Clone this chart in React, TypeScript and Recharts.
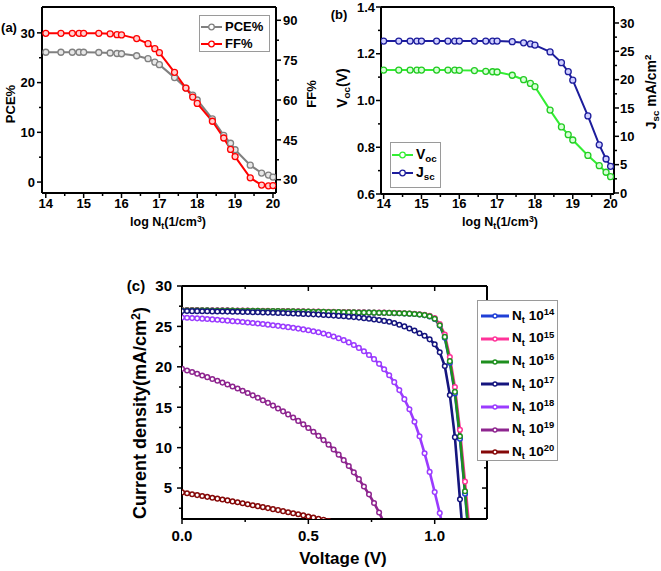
import React from 'react'
import { LineChart, Line, XAxis, YAxis } from 'recharts'

const FONT = '"Liberation Sans", Arial, Helvetica, sans-serif'

// (a) + (b): device parameters vs defect density
const logNt = [14, 14.4, 14.7, 14.88, 15, 15.4, 15.7, 15.88, 16, 16.4, 16.7, 16.88, 17, 17.4, 17.7, 17.88, 18, 18.4, 18.7, 18.88, 19, 19.4, 19.7, 19.88, 20]
const pce = [26.1, 26.1, 26.1, 26.1, 26.1, 26.05, 25.95, 25.85, 25.8, 25.4, 24.8, 24.1, 23.6, 21.0, 18.9, 17.5, 16.5, 12.7, 9.4, 7.8, 6.5, 3.4, 1.8, 1.4, 1.0]
const ff = [85.1, 85.1, 85.1, 85.1, 85.1, 85.1, 84.9, 84.6, 84.5, 83.1, 81.2, 79.3, 77.8, 70.4, 64.5, 61.1, 58.7, 52.0, 45.7, 41.4, 38.7, 30.7, 28.0, 27.7, 27.8]
const voc = [1.13, 1.13, 1.13, 1.13, 1.13, 1.13, 1.13, 1.13, 1.129, 1.128, 1.125, 1.123, 1.122, 1.108, 1.089, 1.073, 1.059, 0.959, 0.887, 0.854, 0.831, 0.765, 0.721, 0.693, 0.674]
const jsc = [26.8, 26.8, 26.8, 26.8, 26.8, 26.8, 26.8, 26.8, 26.8, 26.8, 26.8, 26.8, 26.8, 26.7, 26.5, 26.3, 26.1, 24.9, 23.0, 21.4, 19.9, 13.6, 8.5, 6.0, 4.7]

const ntTicks = [14, 14.5, 15, 15.5, 16, 16.5, 17, 17.5, 18, 18.5, 19, 19.5, 20]
const pceTicks = [0, 5, 10, 15, 20, 25, 30]
const ffTicks = [30, 37.5, 45, 52.5, 60, 67.5, 75, 82.5, 90]
const vocTicks = [0.6, 0.7, 0.8, 0.9, 1.0, 1.1, 1.2, 1.3, 1.4]
const jscTicks = [0, 2.5, 5, 7.5, 10, 12.5, 15, 17.5, 20, 22.5, 25, 27.5, 30]

// (c): J-V curves
const volts = [0, 0.02, 0.04, 0.06, 0.08, 0.1, 0.12, 0.14, 0.16, 0.18, 0.2, 0.22, 0.24, 0.26, 0.28, 0.3, 0.32, 0.34, 0.36, 0.38, 0.4, 0.42, 0.44, 0.46, 0.48, 0.5, 0.52, 0.54, 0.56, 0.58, 0.6, 0.62, 0.64, 0.66, 0.68, 0.7, 0.72, 0.74, 0.76, 0.78, 0.8, 0.82, 0.84, 0.86, 0.88, 0.9, 0.92, 0.94, 0.96, 0.98, 1.0, 1.02, 1.04, 1.06, 1.08, 1.1, 1.12, 1.14]
const jv14 = [26.99, 26.99, 26.98, 26.98, 26.97, 26.97, 26.96, 26.96, 26.95, 26.95, 26.94, 26.93, 26.93, 26.92, 26.91, 26.91, 26.9, 26.89, 26.88, 26.88, 26.87, 26.86, 26.85, 26.84, 26.83, 26.82, 26.81, 26.8, 26.79, 26.78, 26.77, 26.76, 26.75, 26.74, 26.73, 26.72, 26.71, 26.7, 26.69, 26.68, 26.67, 26.66, 26.64, 26.62, 26.6, 26.57, 26.53, 26.47, 26.39, 26.24, 25.93, 25.1, 23.6, 20.5, 16.7, 11.1, 4.3, -3]
const jv15 = [27.02, 27.02, 27.01, 27.01, 27.0, 27.0, 26.99, 26.99, 26.98, 26.98, 26.97, 26.96, 26.96, 26.95, 26.94, 26.94, 26.93, 26.92, 26.91, 26.91, 26.9, 26.89, 26.88, 26.87, 26.86, 26.85, 26.84, 26.83, 26.82, 26.81, 26.8, 26.79, 26.78, 26.77, 26.76, 26.75, 26.74, 26.73, 26.72, 26.71, 26.7, 26.69, 26.67, 26.65, 26.63, 26.6, 26.56, 26.5, 26.43, 26.3, 26.02, 25.3, 24.0, 21.2, 17.5, 12.2, 5.8, -1]
const jv16 = [27.0, 27.0, 26.99, 26.99, 26.98, 26.98, 26.97, 26.97, 26.96, 26.96, 26.95, 26.94, 26.94, 26.93, 26.92, 26.92, 26.91, 26.9, 26.89, 26.89, 26.88, 26.87, 26.86, 26.85, 26.84, 26.83, 26.82, 26.81, 26.8, 26.79, 26.78, 26.77, 26.76, 26.75, 26.74, 26.73, 26.72, 26.71, 26.7, 26.69, 26.68, 26.67, 26.65, 26.63, 26.61, 26.58, 26.54, 26.48, 26.4, 26.25, 25.95, 25.15, 23.7, 20.7, 16.9, 11.4, 4.6, -2.5]
const jv17 = [26.9, 26.9, 26.89, 26.89, 26.88, 26.87, 26.86, 26.85, 26.84, 26.83, 26.82, 26.81, 26.79, 26.78, 26.76, 26.75, 26.73, 26.71, 26.69, 26.67, 26.65, 26.63, 26.6, 26.58, 26.55, 26.52, 26.49, 26.46, 26.42, 26.38, 26.34, 26.3, 26.25, 26.2, 26.15, 26.09, 26.02, 25.95, 25.87, 25.78, 25.68, 25.57, 25.42, 25.2, 25.0, 24.75, 24.48, 24.15, 23.85, 23.4, 22.8, 21.8, 20.1, 16.5, 11.3, 3.6, -4]
const jv18 = [26.1, 26.07, 26.03, 26.0, 25.96, 25.92, 25.87, 25.82, 25.77, 25.71, 25.65, 25.6, 25.54, 25.48, 25.42, 25.36, 25.29, 25.22, 25.15, 25.07, 24.99, 24.91, 24.82, 24.73, 24.63, 24.52, 24.4, 24.27, 24.12, 23.95, 23.76, 23.54, 23.3, 23.02, 22.7, 22.34, 21.93, 21.47, 20.95, 20.37, 19.7, 18.95, 18.1, 17.12, 16.0, 14.75, 13.2, 11.4, 9.3, 7.0, 4.5, 1.9, -0.8]
const jv19 = [19.75, 19.55, 19.35, 19.14, 18.93, 18.72, 18.5, 18.28, 18.05, 17.82, 17.57, 17.31, 17.04, 16.76, 16.47, 16.17, 15.86, 15.54, 15.2, 14.85, 14.49, 14.11, 13.72, 13.31, 12.88, 12.43, 11.96, 11.46, 10.93, 10.37, 9.77, 9.13, 8.45, 7.72, 6.94, 6.1, 5.2, 4.22, 3.15, 1.98, 0.7]
const jv20 = [4.46, 4.35, 4.24, 4.13, 4.02, 3.91, 3.8, 3.69, 3.58, 3.47, 3.35, 3.24, 3.12, 3.0, 2.88, 2.76, 2.64, 2.52, 2.39, 2.27, 2.14, 2.01, 1.88, 1.75, 1.62, 1.48, 1.35, 1.21, 1.07, 0.93, 0.79]

const jvYTicks = [2.5, 5, 7.5, 10, 12.5, 15, 17.5, 20, 22.5, 25, 27.5, 30]
const jvXTicks = [0, 0.25, 0.5, 0.75, 1.0]

const jvSeries = [
  { key: 'n14', exp: '14', color: '#1f3fd6', values: jv14 },
  { key: 'n15', exp: '15', color: '#ff3399', values: jv15 },
  { key: 'n16', exp: '16', color: '#1e8f1e', values: jv16 },
  { key: 'n17', exp: '17', color: '#15157e', values: jv17 },
  { key: 'n18', exp: '18', color: '#9b3bff', values: jv18 },
  { key: 'n19', exp: '19', color: '#8e258f', values: jv19 },
  { key: 'n20', exp: '20', color: '#850808', values: jv20 },
]

const sweepRows = logNt.map((x, i) => ({ x, pce: pce[i], ff: ff[i], voc: voc[i], jsc: jsc[i] }))
const jvRows = volts.map((v, i) => {
  const row: Record<string, number> = { v }
  jvSeries.forEach(s => { if (i < s.values.length) row[s.key] = s.values[i] })
  return row
})

const axisLine = { stroke: '#000', strokeWidth: 2 }
const tickFont = { fill: '#000', fontSize: 13, fontWeight: 700, fontFamily: FONT }
const bigTick = { fill: '#000', fontSize: 15, fontWeight: 700, fontFamily: FONT }

const onStep = (step: number) => (v: number) => Math.abs(v / step - Math.round(v / step)) < 1e-6

// tick mark + optional label, drawn by hand so minor ticks can be shorter
function makeTick(side: 'left' | 'right' | 'bottom' | 'top', o: {
  major: (v: number) => boolean; gap?: number; inward?: boolean; label?: boolean
  fmt?: (v: number) => string; style?: React.CSSProperties
}) {
  return (props: any) => {
    const { x, y, payload } = props
    const v = payload.value as number
    const mj = o.major(v)
    const len = (mj ? 5 : 3) * (o.inward ? -1 : 1)
    const gap = o.gap ?? 7
    const txt = o.fmt ? o.fmt(v) : String(v)
    let x2 = x, y2 = y, tx = x, ty = y
    let anchor: 'start' | 'middle' | 'end' = 'middle'
    if (side === 'left') { x2 = x - len; tx = x - gap; anchor = 'end' }
    if (side === 'right') { x2 = x + len; tx = x + gap; anchor = 'start' }
    if (side === 'bottom') { y2 = y + len; ty = y + gap }
    if (side === 'top') { y2 = y - len; ty = y - gap }
    return (
      <g>
        <line x1={x} y1={y} x2={x2} y2={y2} stroke="#000" strokeWidth={1.5} />
        {o.label !== false && mj &&
          <text x={tx} y={ty} dy="0.36em" textAnchor={anchor} style={o.style ?? tickFont}>{txt}</text>}
      </g>
    )
  }
}

const Sub = ({ children }: { children: React.ReactNode }) =>
  <span style={{ fontSize: '0.7em', position: 'relative', top: '0.35em' }}>{children}</span>
const Sup = ({ children }: { children: React.ReactNode }) =>
  <span style={{ fontSize: '0.7em', position: 'relative', top: '-0.5em' }}>{children}</span>

function Title({ x, y, size, rotate, children }: { x: number; y: number; size: number; rotate?: boolean; children: React.ReactNode }) {
  return (
    <div style={{
      position: 'absolute', left: x, top: y, fontSize: size, fontWeight: 700, fontFamily: FONT,
      whiteSpace: 'nowrap', lineHeight: 1, zIndex: 2,
      transform: `translate(-50%, -50%)${rotate ? ' rotate(-90deg)' : ''}`,
    }}>{children}</div>
  )
}

function Swatch({ color, width, stroke, r }: { color: string; width: number; stroke: number; r: number }) {
  return (
    <svg width={width} height={10} style={{ display: 'block' }}>
      <line x1={0} y1={5} x2={width} y2={5} stroke={color} strokeWidth={stroke} />
      <circle cx={width / 2} cy={5} r={r} fill="#fff" stroke={color} strokeWidth={1.3} />
    </svg>
  )
}

function LegendRow({ x, y, color, width, stroke, r, size, children }: {
  x: number; y: number; color: string; width: number; stroke: number; r: number; size: number; children: React.ReactNode
}) {
  return (
    <div style={{ position: 'absolute', left: x, top: y - 5, display: 'flex', alignItems: 'center', zIndex: 3 }}>
      <Swatch color={color} width={width} stroke={stroke} r={r} />
      <span style={{ marginLeft: 3, fontSize: size, fontWeight: 700, fontFamily: FONT, lineHeight: '10px', whiteSpace: 'nowrap' }}>{children}</span>
    </div>
  )
}

const box = (left: number, top: number, width: number, height: number): React.CSSProperties => ({
  position: 'absolute', left, top, width, height, border: '1px solid #9a9a9a', background: '#fff', zIndex: 2, boxSizing: 'border-box',
})

function PanelA() {
  const dom: [number, number] = [13.9, 20.08]
  return (
    <div style={{ position: 'absolute', left: 0, top: 0, width: 330, height: 240 }}>
      <LineChart width={330} height={240} data={sweepRows} margin={{ top: 6, right: 0, bottom: 0, left: 0 }}>
        <XAxis dataKey="x" type="number" domain={dom} allowDataOverflow ticks={ntTicks} interval={0}
          height={47} tickSize={0} tickMargin={0} axisLine={axisLine} tickLine={false}
          tick={makeTick('bottom', { major: onStep(1), gap: 10 })} />
        <XAxis xAxisId="top" orientation="top" dataKey="x" type="number" domain={dom} allowDataOverflow
          height={1} tick={false} tickLine={false} axisLine={axisLine} />
        <YAxis yAxisId="l" type="number" domain={[-2.2, 35.2]} allowDataOverflow ticks={pceTicks} interval={0}
          width={42} tickSize={0} tickMargin={0} axisLine={axisLine} tickLine={false}
          tick={makeTick('left', { major: onStep(10), gap: 7 })} />
        <YAxis yAxisId="r" orientation="right" type="number" domain={[25, 95]} allowDataOverflow ticks={ffTicks} interval={0}
          width={54} tickSize={0} tickMargin={0} axisLine={axisLine} tickLine={false}
          tick={makeTick('right', { major: onStep(15), gap: 7 })} />
        <Line yAxisId="l" dataKey="pce" stroke="#808080" strokeWidth={2} isAnimationActive={false}
          dot={{ r: 3, fill: '#e8e8e8', stroke: '#808080', strokeWidth: 1.3 }} />
        <Line yAxisId="r" dataKey="ff" stroke="#ff0000" strokeWidth={2} isAnimationActive={false}
          dot={{ r: 3, fill: '#ffd0d0', stroke: '#ff0000', strokeWidth: 1.3 }} />
      </LineChart>
      <Title x={9} y={27} size={13}>(a)</Title>
      <Title x={10} y={104} size={13} rotate>PCE%</Title>
      <Title x={311} y={94} size={13} rotate>FF%</Title>
      <Title x={168} y={222} size={12.5}>log N<Sub>t</Sub>(1/cm<Sup>3</Sup>)</Title>
      <div style={box(199, 15, 71, 37)} />
      <LegendRow x={201} y={27} color="#808080" width={21} stroke={2} r={2.8} size={13}>PCE%</LegendRow>
      <LegendRow x={201} y={44} color="#ff0000" width={21} stroke={2} r={2.8} size={13}>FF%</LegendRow>
    </div>
  )
}

function PanelB() {
  const dom: [number, number] = [13.93, 20.09]
  return (
    <div style={{ position: 'absolute', left: 330, top: 0, width: 331, height: 240 }}>
      <LineChart width={331} height={240} data={sweepRows} margin={{ top: 6, right: 0, bottom: 0, left: 0 }}>
        <XAxis dataKey="x" type="number" domain={dom} allowDataOverflow ticks={ntTicks} interval={0}
          height={46} tickSize={0} tickMargin={0} axisLine={axisLine} tickLine={false}
          tick={makeTick('bottom', { major: onStep(1), gap: 9 })} />
        <XAxis xAxisId="top" orientation="top" dataKey="x" type="number" domain={dom} allowDataOverflow
          height={1} tick={false} tickLine={false} axisLine={axisLine} />
        <YAxis yAxisId="l" type="number" domain={[0.6, 1.4]} allowDataOverflow ticks={vocTicks} interval={0}
          width={51} tickSize={0} tickMargin={0} axisLine={axisLine} tickLine={false}
          tick={makeTick('left', { major: onStep(0.2), gap: 6, fmt: (v) => v.toFixed(1) })} />
        <YAxis yAxisId="r" orientation="right" type="number" domain={[-0.18, 32.82]} allowDataOverflow ticks={jscTicks} interval={0}
          width={47} tickSize={0} tickMargin={0} axisLine={axisLine} tickLine={false}
          tick={makeTick('right', { major: onStep(5), gap: 6 })} />
        <Line yAxisId="l" dataKey="voc" stroke="#33ee33" strokeWidth={2} isAnimationActive={false}
          dot={{ r: 3, fill: '#d8ffd8', stroke: '#22cc22', strokeWidth: 1.3 }} />
        <Line yAxisId="r" dataKey="jsc" stroke="#1c1c9c" strokeWidth={2} isAnimationActive={false}
          dot={{ r: 3, fill: '#d0d0ff', stroke: '#1c1c9c', strokeWidth: 1.3 }} />
      </LineChart>
      <Title x={9} y={14} size={13}>(b)</Title>
      <Title x={12} y={88} size={14} rotate>V<Sub>oc</Sub>(V)</Title>
      <Title x={321} y={92} size={14} rotate>J<Sub>sc</Sub> mA/cm<Sup>2</Sup></Title>
      <Title x={170} y={222} size={12.5}>log N<Sub>t</Sub>(1/cm<Sup>3</Sup>)</Title>
      <div style={box(60, 142, 51, 46)} />
      <LegendRow x={62} y={154} color="#33ee33" width={21} stroke={2} r={2.8} size={14}>V<Sub>oc</Sub></LegendRow>
      <LegendRow x={62} y={172} color="#1c1c9c" width={21} stroke={2} r={2.8} size={14}>J<Sub>sc</Sub></LegendRow>
    </div>
  )
}

function PanelC() {
  const dom: [number, number] = [0, 1.207]
  const yDom: [number, number] = [1.17, 30]
  return (
    <div style={{ position: 'absolute', left: 100, top: 270, width: 400, height: 301 }}>
      <LineChart width={400} height={301} data={jvRows} margin={{ top: 15, right: 0, bottom: 0, left: 0 }}>
        <XAxis dataKey="v" type="number" domain={dom} allowDataOverflow ticks={jvXTicks} interval={0}
          height={52} tickSize={0} tickMargin={0} axisLine={axisLine} tickLine={false}
          tick={makeTick('bottom', { major: onStep(0.5), gap: 17, fmt: (v) => v.toFixed(1), style: bigTick })} />
        <XAxis xAxisId="top" orientation="top" dataKey="v" type="number" domain={dom} allowDataOverflow ticks={jvXTicks} interval={0}
          height={1} tickSize={0} tickMargin={0} axisLine={axisLine} tickLine={false}
          tick={makeTick('top', { major: onStep(0.5), inward: true, label: false })} />
        <YAxis type="number" domain={yDom} allowDataOverflow ticks={jvYTicks} interval={0}
          width={82} tickSize={0} tickMargin={0} axisLine={axisLine} tickLine={false}
          tick={makeTick('left', { major: onStep(5), gap: 10, style: bigTick })} />
        <YAxis yAxisId="r" orientation="right" type="number" domain={yDom} allowDataOverflow ticks={jvYTicks} interval={0}
          width={13} tickSize={0} tickMargin={0} axisLine={axisLine} tickLine={false}
          tick={makeTick('right', { major: onStep(5), inward: true, label: false })} />
        {jvSeries.map(s => (
          <Line key={s.key} dataKey={s.key} stroke={s.color} strokeWidth={2.6} isAnimationActive={false}
            dot={{ r: 2.3, fill: '#fff', stroke: s.color, strokeWidth: 1.5 }} />
        ))}
      </LineChart>
      <Title x={36} y={15} size={15}>(c)</Title>
      <Title x={40} y={143} size={18} rotate>Current density(mA/cm<Sup>2</Sup>)</Title>
      <Title x={243} y={288} size={17}>Voltage (V)</Title>
      <div style={box(377, 30, 81, 161)} />
      {jvSeries.map((s, i) => (
        <LegendRow key={s.key} x={381} y={45.7 + i * 22.7} color={s.color} width={28} stroke={3} r={2} size={13.5}>
          N<Sub>t</Sub> 10<Sup>{s.exp}</Sup>
        </LegendRow>
      ))}
    </div>
  )
}

export default function App() {
  return (
    <div style={{ position: 'absolute', left: 0, top: 0, width: 661, height: 571, background: '#fff', overflow: 'hidden' }}>
      <PanelA />
      <PanelB />
      <PanelC />
    </div>
  )
}
